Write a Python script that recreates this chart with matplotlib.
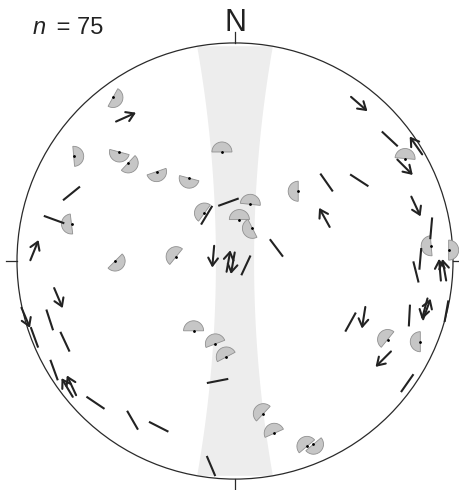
import numpy as np
import matplotlib.pyplot as plt
from matplotlib.patches import Wedge, Circle, Polygon, FancyArrowPatch

plt.rcParams['font.family'] = ['Liberation Sans', 'DejaVu Sans']

# projected positions on the net (primitive radius = 1), azimuths in degrees
# grey half-discs: azimuth is the direction the curved side faces
wedge_x = [-0.56, -0.74, -0.53, -0.49, -0.36, -0.21, -0.06, -0.14, 0.07, 0.02,
           0.08, 0.29, -0.27, -0.55, -0.75, 0.78, 0.90, 0.98, 0.70, 0.85,
           -0.19, -0.09, -0.04, 0.13, 0.18, 0.33, 0.36]
wedge_y = [0.75, 0.48, 0.50, 0.45, 0.41, 0.38, 0.50, 0.22, 0.26, 0.19,
           0.15, 0.32, 0.02, 0.00, 0.17, 0.47, 0.07, 0.05, -0.36, -0.37,
           -0.32, -0.38, -0.44, -0.70, -0.79, -0.85, -0.84]
wedge_az = [119, 85, 195, 133, 161, 195, 0, 306, 6, 0,
            243, 270, 309, 135, 263, 5, 265, 90, 309, 270,
            0, 339, 332, 313, 336, 320, 140]

# plain lineations (no sense)
line_x = [-0.75, -0.83, -0.85, -0.92, -0.78, -0.83, -0.64, -0.47, -0.35, -0.11,
          -0.08, -0.13, -0.03, 0.05, 0.19, 0.71, 0.57, 0.42, 0.90, 0.85,
          0.83, 0.80, 0.97, 0.53, 0.79]
line_y = [0.31, 0.19, -0.27, -0.35, -0.37, -0.50, -0.65, -0.73, -0.76, -0.94,
          -0.55, 0.21, 0.27, -0.02, 0.06, 0.56, 0.37, 0.36, 0.15, 0.01,
          -0.05, -0.25, -0.23, -0.28, -0.56]
line_az = [51, 110, 162, 160, 155, 160, 124, 150, 117, 157,
           79, 31, 70, 25, 143, 133, 123, 145, 5, 5,
           166, 3, 10, 29, 35]

# lineations with slip sense, azimuth = direction of the arrow
arrow_x = [-0.50, -0.92, -0.81, -0.96, -0.77, -0.75, -0.10, -0.03, -0.01, 0.57,
           0.83, 0.78, 0.41, 0.83, 0.96, 0.94, 0.88, 0.87, 0.59, 0.68]
arrow_y = [0.66, 0.05, -0.17, -0.26, -0.58, -0.57, 0.02, 0.00, -0.01, 0.72,
           0.53, 0.43, 0.20, 0.25, -0.04, -0.04, -0.22, -0.22, -0.26, -0.45]
arrow_az = [66, 22, 157, 157, 329, 335, 185, 10, 190, 131,
            325, 135, 331, 155, 350, 355, 20, 195, 189, 225]

n_total = 75
band_half_angle = 10  # degrees either side of the N-S vertical plane

fig = plt.figure(figsize=(4.59, 4.90), dpi=100)
ax = fig.add_axes([0, 0, 1, 1])
ax.set_xlim(-1.078, 1.0275)
ax.set_ylim(-1.050, 1.197)
ax.axis('off')

# shaded band: small circles about the E-W axis (stereographic, lower hemisphere)
a = np.radians(band_half_angle)
t = np.linspace(0, np.pi, 200)
n_ = np.cos(a) * np.cos(t)
d_ = np.cos(a) * np.sin(t)
xr = np.sin(a) / (1 + d_)
yr = n_ / (1 + d_)
band = np.concatenate([np.column_stack([xr, yr]),
                       np.column_stack([-xr[::-1], yr[::-1]])])
ax.add_patch(Polygon(band, closed=True, facecolor='#ededed', edgecolor='none', zorder=0))

# primitive circle and cardinal ticks
ax.add_patch(Circle((0, 0), 1, fill=False, edgecolor='#2a2a2a', lw=0.9, zorder=1))
tk = 0.05
ax.plot([0, 0], [1, 1 + tk], color='#2a2a2a', lw=0.9)
ax.plot([0, 0], [-1, -1 - tk], color='#2a2a2a', lw=0.9)
ax.plot([-1, -1 - tk], [0, 0], color='#2a2a2a', lw=0.9)
ax.plot([1, 1 + tk], [0, 0], color='#2a2a2a', lw=0.9)

ax.text(0, 1.055, 'N', ha='center', va='baseline', fontsize=22, color='#222222')
ax.text(-0.93, 1.04, 'n', ha='left', va='baseline', fontsize=17, color='#222222',
        fontstyle='italic')
ax.text(-0.85, 1.04, ' = %d' % n_total, ha='left', va='baseline', fontsize=17,
        color='#222222')

half = 0.05
dark = '#222222'

for x, y, az in zip(line_x, line_y, line_az):
    dx, dy = half * np.sin(np.radians(az)), half * np.cos(np.radians(az))
    ax.plot([x - dx, x + dx], [y - dy, y + dy], color=dark, lw=1.5,
            solid_capstyle='butt', zorder=3)

for x, y, az in zip(arrow_x, arrow_y, arrow_az):
    dx, dy = half * np.sin(np.radians(az)), half * np.cos(np.radians(az))
    ax.add_patch(FancyArrowPatch((x - dx, y - dy), (x + dx, y + dy),
                                 arrowstyle='->,head_length=0.55,head_width=0.35',
                                 mutation_scale=10, lw=1.5, color=dark,
                                 shrinkA=0, shrinkB=0, zorder=3))

r = 0.046
for x, y, az in zip(wedge_x, wedge_y, wedge_az):
    th = 90 - az
    ax.add_patch(Wedge((x, y), r, th - 90, th + 90, facecolor='#c6c6c6',
                       edgecolor='#909090', lw=0.6, zorder=2))
ax.plot(wedge_x, wedge_y, 'o', ms=1.0, color='black', zorder=4)

fig.savefig('out.png', dpi=100)
